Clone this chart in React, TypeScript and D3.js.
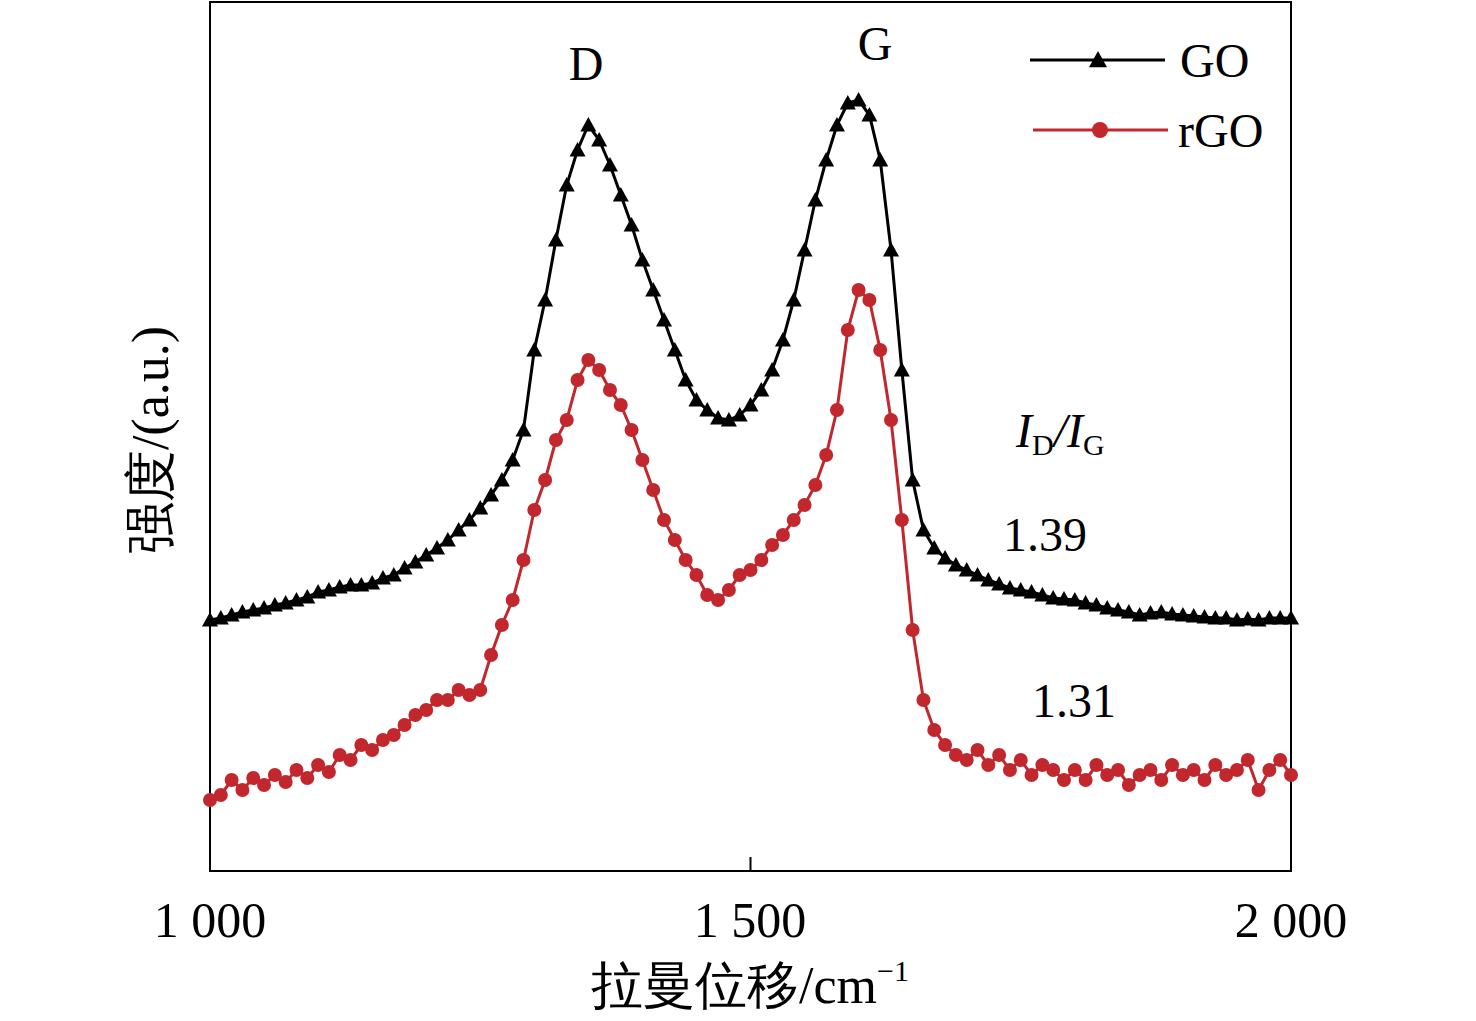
import React from "react";
import * as d3 from "d3";

const xs = d3.range(1000, 2001, 10);
const goVals = [
  251,253,256,259,261,263,266,268,271,274,
  279,281,284,286,286,288,293,296,303,309,
  316,323,331,341,351,363,376,391,411,441,
  521,571,631,686,721,746,731,706,676,646,
  611,581,551,521,491,471,461,453,451,456,
  466,481,501,531,571,621,671,711,746,768,
  771,756,711,621,501,391,341,323,313,306,
  301,296,291,287,283,281,279,276,273,272,
  271,268,266,263,261,259,256,258,259,257,
  256,255,254,253,253,251,252,251,253,253,253];
const rgoVals = [
  71,76,91,81,93,86,96,89,101,93,
  106,99,116,111,126,121,131,136,146,156,
  161,171,171,181,176,181,216,246,271,311,
  361,391,431,451,491,511,501,481,466,441,
  411,381,351,331,311,296,276,271,281,296,
  301,311,326,336,351,366,386,416,461,541,
  581,571,521,451,351,241,171,141,126,116,
  111,121,106,116,101,111,96,106,101,91,
  101,91,106,96,101,86,96,101,91,106,
  96,101,91,106,96,101,111,81,101,111,96];

export default function App() {
  const x = d3.scaleLinear().domain([1000, 2000]).range([210, 1291]);
  const y = d3.scaleLinear().domain([0, 869]).range([871, 2]);
  const line = d3.line<number>().x((_, i) => x(xs[i])).y(d => y(d));
  const ff = "'Liberation Serif', 'Times New Roman', serif";
  const red = "#c1272d";
  const tri = (cx: number, cy: number, s = 8) => `M${cx},${cy - s}L${cx + s},${cy + s * 0.8}L${cx - s},${cy + s * 0.8}Z`;
  return (
    <svg width={1476} height={1021} style={{ position: "absolute", left: 0, top: 0, background: "#fff" }}>
      <rect x={210} y={2} width={1081} height={869} fill="none" stroke="#000" strokeWidth={2} />
      <line x1={x(1500)} x2={x(1500)} y1={871} y2={857} stroke="#000" strokeWidth={2} />
      <path d={line(goVals) || ""} fill="none" stroke="#000" strokeWidth={3} />
      {goVals.map((v, i) => <path key={"g" + i} d={tri(x(xs[i]), y(v))} fill="#000" />)}
      <path d={line(rgoVals) || ""} fill="none" stroke={red} strokeWidth={3} />
      {rgoVals.map((v, i) => <circle key={"r" + i} cx={x(xs[i])} cy={y(v)} r={7} fill={red} />)}
      <g fontFamily={ff} fontSize={48} fill="#000">
        <text x={586} y={80} textAnchor="middle">D</text>
        <text x={875} y={60} textAnchor="middle">G</text>
        <line x1={1030} x2={1165} y1={60} y2={60} stroke="#000" strokeWidth={3} />
        <path d={tri(1098, 60, 9)} fill="#000" />
        <text x={1180} y={77}>GO</text>
        <line x1={1033} x2={1168} y1={130} y2={130} stroke={red} strokeWidth={3} />
        <circle cx={1100} cy={130} r={8} fill={red} />
        <text x={1178} y={147}>rGO</text>
        <text x={1016} y={447} fontStyle="italic">I<tspan fontSize={30} fontStyle="normal" dy={8}>D</tspan><tspan dy={-8}>/I</tspan><tspan fontSize={30} fontStyle="normal" dy={8}>G</tspan></text>
        <text x={1003} y={551}>1.39</text>
        <text x={1032} y={717}>1.31</text>
        <g fontSize={50}>
          <text x={210} y={937} textAnchor="middle">1 000</text>
          <text x={750} y={937} textAnchor="middle">1 500</text>
          <text x={1291} y={937} textAnchor="middle">2 000</text>
        </g>
        <text x={750} y={1003} textAnchor="middle" fontSize={52}>拉曼位移/cm<tspan fontSize={30} dy={-22}>−1</tspan></text>
        <text transform="translate(168,440) rotate(-90)" textAnchor="middle" fontSize={52}>强度/(a.u.)</text>
      </g>
    </svg>
  );
}
